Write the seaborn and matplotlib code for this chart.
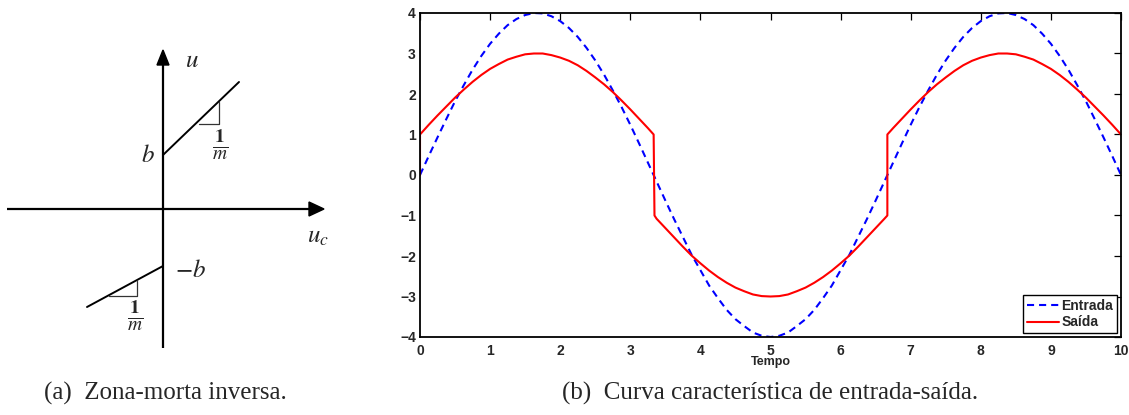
import numpy as np
import pandas as pd
import matplotlib
matplotlib.use("Agg")
import matplotlib.pyplot as plt
from matplotlib.patches import Polygon
import seaborn as sns

# ---------------- data ----------------
t_in = [0.0, 0.125, 0.25, 0.375, 0.5, 0.625, 0.75, 0.875, 1.0, 1.125, 1.25, 1.375,
        1.5, 1.625, 1.75, 1.875, 2.0, 2.125, 2.25, 2.375, 2.5, 2.625, 2.75, 2.875,
        3.0, 3.125, 3.25, 3.375, 3.5, 3.625, 3.75, 3.875, 4.0, 4.125, 4.25, 4.375,
        4.5, 4.625, 4.75, 4.875, 5.0, 5.125, 5.25, 5.375, 5.5, 5.625, 5.75, 5.875,
        6.0, 6.125, 6.25, 6.375, 6.5, 6.625, 6.75, 6.875, 7.0, 7.125, 7.25, 7.375,
        7.5, 7.625, 7.75, 7.875, 8.0, 8.125, 8.25, 8.375, 8.5, 8.625, 8.75, 8.875,
        9.0, 9.125, 9.25, 9.375, 9.5, 9.625, 9.75, 9.875, 10.0]
entrada = [0.00, 0.47, 0.93, 1.38, 1.82, 2.22, 2.60, 2.94, 3.24, 3.49, 3.70, 3.85,
           3.95, 4.00, 3.99, 3.92, 3.80, 3.63, 3.41, 3.14, 2.83, 2.48, 2.09, 1.68,
           1.24, 0.78, 0.31, -0.16, -0.63, -1.09, -1.53, -1.97, -2.35, -2.73, -3.04, -3.33,
           -3.56, -3.73, -3.89, -3.97, -4.00, -3.97, -3.89, -3.73, -3.56, -3.33, -3.04, -2.73,
           -2.35, -1.97, -1.53, -1.09, -0.63, -0.16, 0.31, 0.78, 1.24, 1.68, 2.09, 2.48,
           2.83, 3.14, 3.41, 3.63, 3.80, 3.92, 3.99, 4.00, 3.95, 3.85, 3.70, 3.49,
           3.24, 2.94, 2.60, 2.22, 1.82, 1.38, 0.93, 0.47, 0.00]

t_out = [0.0, 0.0, 0.125, 0.25, 0.375, 0.5, 0.625, 0.75, 0.875, 1.0, 1.125, 1.25, 1.375,
         1.5, 1.625, 1.75, 1.875, 2.0, 2.125, 2.25, 2.375, 2.5, 2.625, 2.75, 2.875,
         3.0, 3.125, 3.25, 3.333, 3.345, 3.375, 3.5, 3.625, 3.75, 3.875, 4.0, 4.125, 4.25, 4.375,
         4.5, 4.625, 4.75, 4.875, 5.0, 5.125, 5.25, 5.375, 5.5, 5.625, 5.75, 5.875,
         6.0, 6.125, 6.25, 6.375, 6.5, 6.625, 6.667, 6.667, 6.75, 6.875, 7.0, 7.125, 7.25, 7.375,
         7.5, 7.625, 7.75, 7.875, 8.0, 8.125, 8.25, 8.375, 8.5, 8.625, 8.75, 8.875,
         9.0, 9.125, 9.25, 9.375, 9.5, 9.625, 9.75, 9.875, 10.0]
saida = [0.00, 1.00, 1.24, 1.47, 1.69, 1.91, 2.11, 2.30, 2.47, 2.62, 2.74, 2.85, 2.92,
         2.98, 3.00, 3.00, 2.96, 2.90, 2.82, 2.71, 2.57, 2.41, 2.24, 2.05, 1.84,
         1.62, 1.39, 1.16, 1.00, -1.00, -1.08, -1.31, -1.54, -1.77, -1.99, -2.18, -2.36, -2.52, -2.66,
         -2.78, -2.87, -2.95, -2.99, -3.00, -2.99, -2.95, -2.87, -2.78, -2.66, -2.52, -2.36,
         -2.18, -1.99, -1.77, -1.54, -1.31, -1.08, -1.00, 1.00, 1.16, 1.39, 1.62, 1.84, 2.05, 2.24,
         2.41, 2.57, 2.71, 2.82, 2.90, 2.96, 3.00, 3.00, 2.98, 2.92, 2.85, 2.74,
         2.62, 2.47, 2.30, 2.11, 1.91, 1.69, 1.47, 1.24, 1.00]

series_labels = ["Entrada", "Saída"]
x_ticks = [0, 1, 2, 3, 4, 5, 6, 7, 8, 9, 10]
y_ticks = [-4, -3, -2, -1, 0, 1, 2, 3, 4]
x_label = "Tempo"
caption_a = "(a)  Zona-morta inversa."
caption_b = "(b)  Curva característica de entrada-saída."

# schematic of the inverse dead zone (diagram units, pixel-like)
upper_branch_x = [163, 239]
upper_branch_y = [155, 82]
lower_branch_x = [87, 163]
lower_branch_y = [307, 266]

# ---------------- figure ----------------
sns.set_theme(style="white")
plt.rcParams['font.family'] = ['Liberation Sans', 'DejaVu Sans']
plt.rcParams['mathtext.fontset'] = 'stix'

fig = plt.figure(figsize=(11.29, 4.15), dpi=100)

# --- left diagram (pixel coordinates) ---
axd = fig.add_axes([0, 0, 1, 1])
axd.set_xlim(0, 1129)
axd.set_ylim(415, 0)
axd.axis("off")

lw_axis = 1.6
axd.plot([7, 311], [209, 209], color="black", lw=lw_axis, solid_capstyle="butt")
axd.add_patch(Polygon([[309, 202], [324, 209], [309, 216]], closed=True,
                      color="black"))
axd.plot([163, 163], [348, 64], color="black", lw=lw_axis, solid_capstyle="butt")
axd.add_patch(Polygon([[157, 65], [163, 50], [169, 65]], closed=True,
                      color="black"))
axd.plot(upper_branch_x, upper_branch_y, color="black", lw=1.4)
axd.plot(lower_branch_x, lower_branch_y, color="black", lw=1.4)
axd.plot([199, 219, 219], [124, 124, 102], color="#333333", lw=0.9)
axd.plot([109, 137, 137], [296, 296, 281], color="#333333", lw=0.9)

mfs = 18
axd.text(192, 60, r"$u$", fontsize=mfs, ha="center", va="center")
axd.text(318, 236, r"$u_c$", fontsize=mfs, ha="center", va="center")
axd.text(148, 155, r"$b$", fontsize=mfs, ha="center", va="center")
axd.text(190, 270, r"$-b$", fontsize=mfs, ha="center", va="center")
axd.text(220, 145, r"$\frac{\mathbf{1}}{m}$", fontsize=20, ha="center", va="center")
axd.text(135, 316, r"$\frac{\mathbf{1}}{m}$", fontsize=20, ha="center", va="center")

axd.text(165, 400, caption_a, fontsize=18, family="Liberation Serif",
         ha="center", va="baseline")
axd.text(770, 400, caption_b, fontsize=18, family="Liberation Serif",
         ha="center", va="baseline")

# --- right plot ---
ax = fig.add_axes([420 / 1129, 78 / 415, 701 / 1129, 324 / 415])
df_in = pd.DataFrame({"t": t_in, "v": entrada})
df_out = pd.DataFrame({"t": t_out, "v": saida})
sns.lineplot(data=df_in, x="t", y="v", ax=ax, color="blue", lw=1.5,
             estimator=None, sort=False, label=series_labels[0],
             dashes=False, linestyle=(0, (3.4, 2.4)))
sns.lineplot(data=df_out, x="t", y="v", ax=ax, color="red", lw=1.5,
             estimator=None, sort=False, label=series_labels[1])

ax.set_xlim(0, 10)
ax.set_ylim(-4, 4)
ax.set_xticks(x_ticks)
ax.set_yticks(y_ticks)
ax.set_xticklabels([str(v) for v in x_ticks])
ax.set_yticklabels([str(v).replace("-", "\u2212") for v in y_ticks])
for lab in ax.get_xticklabels() + ax.get_yticklabels():
    lab.set_fontweight("bold")
    lab.set_fontsize(10)
ax.tick_params(direction="in", top=True, right=True, length=5, width=0.9,
               color="black", pad=3)
ax.tick_params(axis="x", pad=5)
ax.set_xlabel(x_label, fontsize=9, fontweight="bold", labelpad=-1.5)
ax.set_ylabel("")
for s in ax.spines.values():
    s.set_visible(True)
    s.set_color("black")
    s.set_linewidth(1.3)
ax.grid(False)

leg = ax.legend(loc="lower right", frameon=True, fancybox=False,
                edgecolor="black", framealpha=1, borderpad=0.25,
                handlelength=2.3, handletextpad=0.2, labelspacing=0.2,
                borderaxespad=0.3, prop={"weight": "bold", "size": 10})
leg.get_frame().set_linewidth(1.0)

fig.savefig("out.png", dpi=100)
